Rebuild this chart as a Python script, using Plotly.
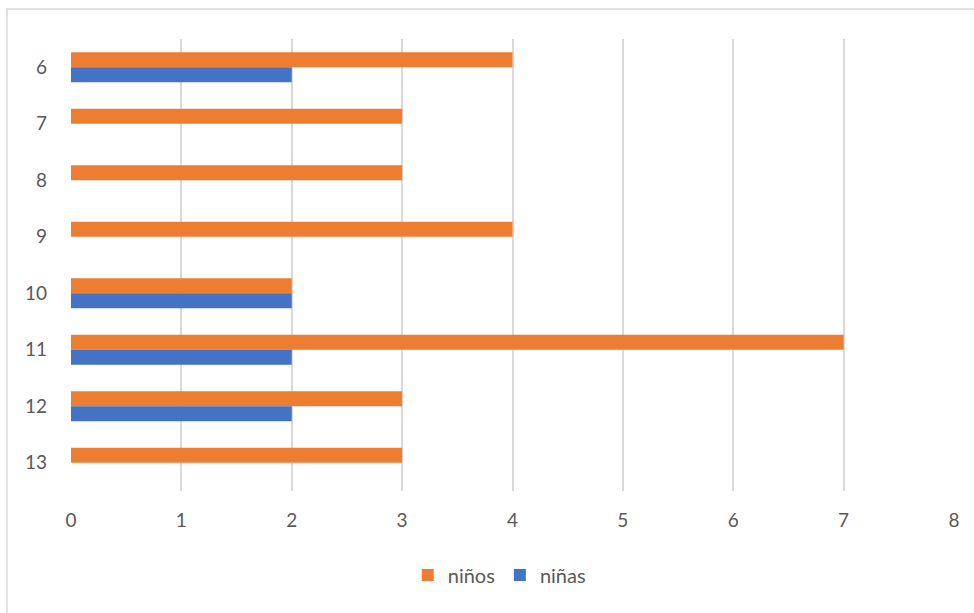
import plotly.graph_objects as go

categories = ["6", "7", "8", "9", "10", "11", "12", "13"]
ninos = [4, 3, 3, 4, 2, 7, 3, 3]
ninas = [2, 0, 0, 0, 2, 2, 2, 0]
x_ticks = [0, 1, 2, 3, 4, 5, 6, 7, 8]

W, H = 974, 613
ml, mr, mt, mb = 71, 20, 39, 122
pw, ph = W - ml - mr, H - mt - mb

fig = go.Figure()
fig.add_trace(go.Bar(y=categories, x=ninos, name="niños", orientation="h",
                     marker=dict(color="#ED7D31", line=dict(width=0))))
fig.add_trace(go.Bar(y=categories, x=ninas, name="niñas", orientation="h",
                     marker=dict(color="#4472C4", line=dict(width=0))))

font = dict(family="Lato, 'Open Sans', sans-serif", size=19, color="#595959")

fig.update_layout(
    width=W, height=H,
    margin=dict(l=ml, r=mr, t=mt, b=mb),
    paper_bgcolor="white", plot_bgcolor="white",
    barmode="group", bargap=0.47, bargroupgap=0,
    font=font,
    showlegend=True,
    legend=dict(orientation="h", x=0.485, xanchor="center", y=-0.186, yanchor="middle",
                font=dict(family=font["family"], size=20, color="#595959"),
                itemwidth=30, traceorder="normal"),
    xaxis=dict(range=[0, 8], tickvals=x_ticks, showgrid=True, gridcolor="#d9d9d9",
               gridwidth=1.5, zeroline=False, showline=False, ticks="",
               ticklabelstandoff=16, tickfont=font, fixedrange=True),
    yaxis=dict(type="category", categoryorder="array", categoryarray=categories,
               autorange="reversed", showgrid=False, zeroline=False, showline=False,
               ticks="", ticklabelstandoff=23, tickfont=font, fixedrange=True),
    shapes=[dict(type="rect", xref="paper", yref="paper",
                 x0=(7 - ml) / pw, x1=(W + 10 - ml) / pw,
                 y0=-(H + 10 - (mt + ph)) / ph, y1=(mt + ph - 9) / ph,
                 line=dict(color="#d9d9d9", width=1.5), layer="below")],
)

fig.write_html("out.html")
